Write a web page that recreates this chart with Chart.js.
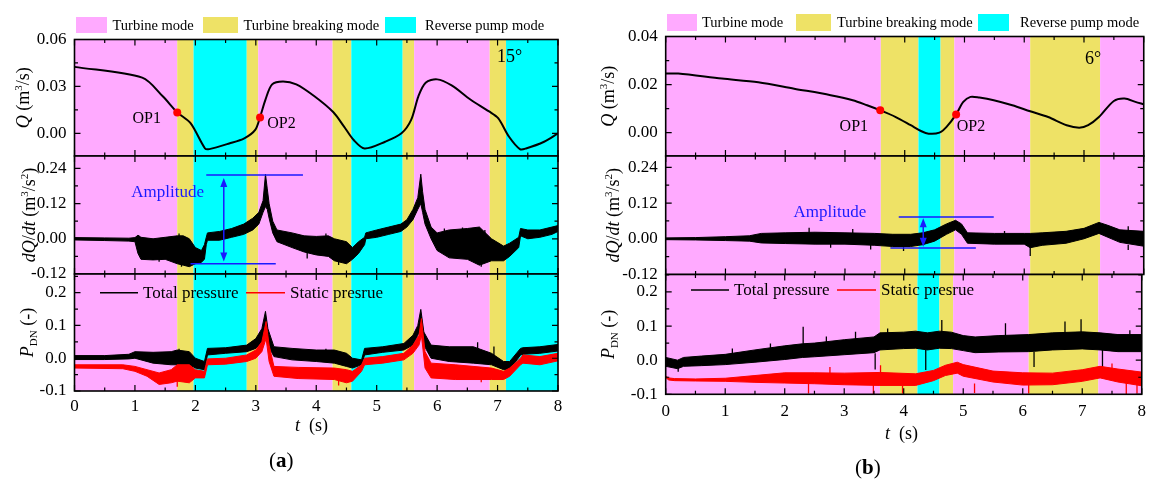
<!DOCTYPE html>
<html>
<head>
<meta charset="utf-8">
<script src="https://cdn.jsdelivr.net/npm/chart.js@4.4.1/dist/chart.umd.min.js"></script>
<style>
body{margin:0;background:#fff;width:1153px;height:479px;overflow:hidden;position:relative}
canvas{position:absolute;left:0;top:0}
</style>
</head>
<body>
<canvas id="c1" width="1153" height="479"></canvas>
<canvas id="c2" width="1153" height="479"></canvas>
<canvas id="c3" width="1153" height="479"></canvas>
<canvas id="c4" width="1153" height="479"></canvas>
<canvas id="c5" width="1153" height="479"></canvas>
<canvas id="c6" width="1153" height="479"></canvas>
<script>
// ---- tick labels
var xTicks = [0,1,2,3,4,5,6,7,8];
var qTicksA = [0.00, 0.03, 0.06];
var qTicksB = [0.00, 0.02, 0.04];
var dqTicks = [-0.12, 0.00, 0.12, 0.24];
var pTicks = [-0.1, 0.0, 0.1, 0.2];

// ---- operating modes (s)
var modeNames = ['Turbine mode', 'Turbine breaking mode', 'Reverse pump mode'];
var bandsA_start = [0, 1.70, 1.97, 2.85, 3.04, 4.27, 4.58, 5.43, 5.62, 6.87, 7.14];
var bandsA_end   = [1.70, 1.97, 2.85, 3.04, 4.27, 4.58, 5.43, 5.62, 6.87, 7.14, 8];
var bandsA_mode  = [0, 1, 2, 1, 0, 1, 2, 1, 0, 1, 2];
var bandsB_start = [0, 3.60, 4.23, 4.60, 4.83, 6.10, 7.27];
var bandsB_end   = [3.60, 4.23, 4.60, 4.83, 6.10, 7.27, 8];
var bandsB_mode  = [0, 1, 2, 1, 0, 1, 0];

// ---- (a) 15 deg : flow rate Q
var qaT = [0,1.12,1.46,1.70,1.92,2.16,2.23,2.56,2.81,2.99,3.07,3.16,3.27,3.45,3.67,3.97,4.28,4.46,4.62,4.80,5.14,5.41,5.57,5.69,5.81,6.00,6.24,6.55,6.86,7.01,7.19,7.37,7.47,7.77,8.0];
var qaV = [0.0425,0.0356,0.0237,0.0134,0.0065,-0.0097,-0.0101,-0.0065,-0.0032,0.0022,0.0104,0.0216,0.0313,0.0332,0.0313,0.0237,0.0136,0.0043,-0.0043,-0.0097,-0.0054,0.0,0.0086,0.0237,0.0324,0.0345,0.0306,0.0216,0.014,0.0097,-0.0022,-0.0101,-0.0097,-0.0054,0.0];
var opA_t = [1.70, 3.07];
var opA_q = [0.0133, 0.0101];

// dQ/dt (a): upper / lower edge of the dense trace, plus single spikes
var dqaT  = [0,0.5,0.9,1.0,1.05,1.1,1.3,1.5,1.7,1.8,1.9,2.0,2.1,2.15,2.18,2.2,2.4,2.6,2.8,2.95,3.05,3.12,3.16,3.19,3.22,3.28,3.35,3.6,3.8,4.0,4.2,4.3,4.5,4.6,4.7,4.8,4.82,5.0,5.2,5.4,5.5,5.6,5.68,5.73,5.76,5.8,5.9,6.0,6.2,6.5,6.7,6.9,7.1,7.2,7.35,7.38,7.5,7.7,7.9,8.0];
var dqaHi = [0.004,0.003,0.002,0.004,0.012,0.005,0.0,0.005,0.01,0.01,0.0,-0.03,-0.04,-0.02,0.005,0.02,0.025,0.035,0.05,0.07,0.09,0.13,0.22,0.17,0.12,0.06,0.03,0.02,0.01,0.008,0.01,0.0,-0.01,-0.03,-0.01,0.005,0.02,0.03,0.04,0.05,0.065,0.10,0.14,0.22,0.16,0.10,0.04,0.02,0.03,0.035,0.04,0.0,-0.025,-0.015,0.005,0.035,0.03,0.03,0.04,0.045];
var dqaLo = [-0.004,-0.006,-0.008,-0.010,-0.05,-0.070,-0.072,-0.070,-0.085,-0.09,-0.095,-0.085,-0.08,-0.07,-0.02,-0.005,-0.005,0.005,0.015,0.03,0.05,0.09,0.11,0.10,0.07,0.02,-0.01,-0.03,-0.045,-0.055,-0.06,-0.075,-0.085,-0.07,-0.05,-0.02,0.0,0.005,0.015,0.025,0.04,0.065,0.10,0.12,0.09,0.05,0.0,-0.04,-0.065,-0.07,-0.09,-0.075,-0.075,-0.06,-0.03,0.01,0.0,0.005,0.015,0.025];
var dqaSpkT = [1.06,1.40,1.73,1.77,1.86,3.85,4.16,4.37,6.12,6.42,6.73,6.79];
var dqaSpkA = [-0.01,-0.06,0.0,-0.07,-0.07,-0.04,-0.01,-0.07,0.0,0.0,-0.07,0.0];
var dqaSpkB = [0.012,-0.078,0.018,-0.095,-0.089,-0.067,0.018,-0.089,0.035,0.038,-0.095,0.03];

// P_DN (a): total pressure
var ptaT  = [0,0.5,0.9,1.0,1.3,1.6,1.7,1.9,2.0,2.15,2.2,2.5,2.85,3.0,3.1,3.16,3.2,3.3,3.6,4.0,4.3,4.5,4.6,4.75,4.8,5.1,5.45,5.6,5.68,5.73,5.78,5.9,6.2,6.6,6.9,7.1,7.2,7.38,7.42,7.7,8.0];
var ptaHi = [0.008,0.008,0.012,0.02,0.018,0.02,0.025,0.02,0.0,-0.01,0.03,0.032,0.04,0.06,0.09,0.143,0.09,0.035,0.03,0.025,0.025,0.015,0.0,-0.005,0.03,0.035,0.045,0.07,0.1,0.149,0.08,0.04,0.035,0.035,0.015,-0.01,-0.01,0.03,0.032,0.035,0.042];
var ptaLo = [-0.004,-0.004,-0.002,0.0,-0.015,-0.02,-0.02,-0.02,-0.03,-0.035,0.01,0.015,0.02,0.03,0.05,0.08,0.04,0.005,-0.005,-0.01,-0.015,-0.025,-0.03,-0.02,0.01,0.018,0.025,0.04,0.07,0.09,0.04,0.0,-0.01,-0.015,-0.02,-0.035,-0.035,0.01,0.012,0.015,0.022];
var ptaSpkT = [1.73, 4.16, 6.67, 6.94];
var ptaSpkA = [0.015, 0.02, 0.03, 0.0];
var ptaSpkB = [0.029, 0.029, 0.049, 0.036];
// P_DN (a): static pressure
var psaT  = [0,0.8,1.0,1.2,1.4,1.6,1.7,1.9,2.0,2.15,2.2,2.5,2.85,3.0,3.1,3.17,3.22,3.3,3.7,4.3,4.5,4.6,4.75,4.8,5.1,5.45,5.6,5.7,5.74,5.8,5.9,6.3,6.9,7.1,7.2,7.38,7.42,7.7,8.0];
var psaHi = [-0.02,-0.02,-0.025,-0.035,-0.045,-0.035,-0.02,-0.02,-0.035,-0.04,-0.002,0.0,0.01,0.025,0.05,0.112,0.04,-0.025,-0.028,-0.03,-0.035,-0.04,-0.02,0.0,0.005,0.015,0.04,0.07,0.121,0.02,-0.015,-0.02,-0.03,-0.04,-0.03,0.0,0.01,0.005,0.015];
var psaLo = [-0.03,-0.032,-0.04,-0.055,-0.08,-0.075,-0.07,-0.075,-0.06,-0.06,-0.02,-0.018,-0.01,0.0,0.02,0.06,-0.01,-0.055,-0.062,-0.065,-0.075,-0.07,-0.04,-0.02,-0.015,-0.005,0.015,0.04,0.07,-0.03,-0.06,-0.065,-0.065,-0.065,-0.055,-0.02,-0.015,-0.02,-0.008];
var psaSpkT = [1.70, 4.37, 6.73];
var psaSpkA = [-0.06, -0.065, -0.06];
var psaSpkB = [-0.087, -0.083, -0.073];

// ---- (b) 6 deg
var qbT = [0,0.21,0.94,1.55,2.15,2.76,3.13,3.37,3.59,3.85,4.10,4.28,4.40,4.58,4.70,4.86,4.98,5.10,5.25,5.49,5.80,6.10,6.40,6.71,6.92,7.07,7.25,7.50,7.68,7.86,8.0];
var qbV = [0.0246,0.0246,0.0225,0.021,0.0183,0.0156,0.0135,0.0114,0.0093,0.0065,0.0031,0.0006,-0.0004,0.0,0.0024,0.0076,0.0128,0.0149,0.0146,0.0135,0.0114,0.0089,0.0065,0.0031,0.0021,0.0031,0.0065,0.0132,0.0142,0.0128,0.0118];
var opB_t = [3.59, 4.86];
var opB_q = [0.0093, 0.0076];

var dqbT  = [0,0.5,1.0,1.4,1.6,2.0,2.5,3.0,3.5,3.8,4.1,4.3,4.5,4.7,4.85,4.95,5.05,5.5,6.0,6.1,6.3,6.7,7.0,7.25,7.4,7.6,8.0];
var dqbHi = [0.003,0.004,0.007,0.01,0.018,0.02,0.022,0.02,0.018,0.015,0.015,0.02,0.03,0.05,0.062,0.05,0.02,0.018,0.018,0.018,0.02,0.025,0.035,0.055,0.045,0.03,0.025];
var dqbLo = [-0.003,-0.004,-0.006,-0.008,-0.014,-0.016,-0.018,-0.018,-0.022,-0.026,-0.026,-0.02,-0.008,0.015,0.03,0.015,-0.015,-0.018,-0.018,-0.03,-0.022,-0.015,0.0,0.018,0.005,-0.012,-0.025];
var dqbSpkT = [2.4,2.76,3.13,3.43,3.98,5.67,6.1,6.89,7.74,7.74];
var dqbSpkA = [0.015,-0.015,0.015,-0.018,-0.02,0.012,-0.02,0.02,0.02,-0.02];
var dqbSpkB = [0.037,-0.03,0.033,-0.036,-0.041,0.026,-0.058,0.033,0.042,-0.038];

var ptbT  = [0,0.2,0.3,0.6,1.0,1.5,2.0,2.3,2.5,3.0,3.5,3.6,4.0,4.2,4.4,4.6,4.8,5.0,5.2,5.6,6.1,6.5,7.0,7.3,7.6,8.0];
var ptbHi = [0.008,0.0,0.008,0.012,0.017,0.03,0.042,0.048,0.05,0.06,0.068,0.08,0.082,0.085,0.08,0.085,0.082,0.072,0.068,0.072,0.075,0.08,0.083,0.08,0.075,0.075];
var ptbLo = [-0.018,-0.025,-0.018,-0.016,-0.013,-0.006,0.002,0.008,0.01,0.016,0.022,0.03,0.034,0.035,0.03,0.035,0.034,0.028,0.022,0.024,0.025,0.03,0.033,0.03,0.025,0.025];
var ptbSpkT = [0.21,1.12,1.76,2.31,2.70,3.19,3.52,3.73,4.37,4.64,5.71,6.19,6.71,6.98,7.34,7.80];
var ptbSpkA = [-0.02,0.015,0.025,0.045,0.05,0.058,0.02,0.075,0.03,0.08,0.07,0.025,0.078,0.08,0.03,0.075];
var ptbSpkB = [-0.034,0.034,0.049,0.098,0.069,0.083,-0.027,0.093,-0.029,0.118,0.108,-0.02,0.113,0.12,-0.025,0.088];

var psbT  = [0,0.05,0.15,0.5,1.0,1.5,2.0,2.5,3.0,3.6,4.2,4.5,4.7,4.9,5.0,5.5,6.0,6.5,7.0,7.3,7.6,8.0];
var psbHi = [-0.047,-0.052,-0.054,-0.055,-0.053,-0.045,-0.037,-0.037,-0.038,-0.036,-0.04,-0.03,-0.015,-0.006,-0.013,-0.032,-0.037,-0.038,-0.028,-0.018,-0.026,-0.035];
var psbLo = [-0.051,-0.058,-0.06,-0.061,-0.062,-0.065,-0.067,-0.069,-0.072,-0.074,-0.074,-0.06,-0.045,-0.038,-0.047,-0.064,-0.073,-0.072,-0.062,-0.052,-0.064,-0.075];
var psbSpkT = [2.4,2.76,3.49,3.61,3.98,5.19,6.1,7.5,7.74,7.92];
var psbSpkA = [-0.065,-0.04,-0.07,-0.04,-0.075,-0.068,-0.072,-0.03,-0.065,-0.07];
var psbSpkB = [-0.098,-0.02,-0.1,-0.015,-0.098,-0.096,-0.098,-0.01,-0.1,-0.098];

// ---- annotations (time s, value)
var opA_label_t = [0.96, 3.19], opA_label_v = [0.0091, 0.006];
var opB_label_t = [2.91, 4.87], opB_label_v = [0.0023, 0.0023];
var ampA_top = [2.18, 3.78, 0.217], ampA_bot = [1.92, 3.33, -0.085], ampA_arrow = [2.47, 0.207, -0.077], ampA_label = [0.94, 0.156];
var ampB_top = [3.90, 5.49, 0.073], ampB_bot = [3.76, 5.19, -0.031], ampB_arrow = [4.31, 0.069, -0.027], ampB_label = [2.14, 0.087];

var SERIF = '"Liberation Serif", "DejaVu Serif", serif';
var modeColors = ['#FFAAFF', '#EEE266', '#00FFFF'];
var BLUE = '#1a1aff';

function pts(t, v){ return t.map(function(x, i){ return {x: x, y: v[i]}; }); }

function band(t, hi, lo, color){
  return [
    {data: pts(t, hi), borderColor: color, backgroundColor: color, borderWidth: 1, pointRadius: 0, fill: '+1', tension: 0},
    {data: pts(t, lo), borderColor: color, borderWidth: 1, pointRadius: 0, fill: false, tension: 0}
  ];
}

// vertical strokes for isolated spikes, broken with nulls
function spikes(t, a, b, color){
  var d = [];
  for (var i = 0; i < t.length; i++){
    d.push({x: t[i], y: a[i]}, {x: t[i], y: b[i]}, {x: t[i], y: null});
  }
  return {data: d, borderColor: color, borderWidth: 1.3, pointRadius: 0, fill: false, spanGaps: false};
}

function fontFor(st, size){
  if (st == 'i') return 'italic ' + size + 'px ' + SERIF;
  if (st == 'b') return 'bold ' + size + 'px ' + SERIF;
  if (st == 'sup' || st == 'sub') return Math.round(size * 0.62) + 'px ' + SERIF;
  return size + 'px ' + SERIF;
}

// mixed-style text, optionally rotated, x/y = baseline anchor
function rich(ctx, segs, x, y, size, rot, center){
  ctx.save();
  ctx.translate(x, y);
  if (rot) ctx.rotate(-Math.PI / 2);
  ctx.fillStyle = '#000';
  ctx.textBaseline = 'alphabetic';
  ctx.textAlign = 'left';
  var w = 0;
  segs.forEach(function(s){ ctx.font = fontFor(s[1], size); w += ctx.measureText(s[0]).width; });
  var cx = center ? -w / 2 : 0;
  segs.forEach(function(s){
    ctx.font = fontFor(s[1], size);
    var dy = s[1] == 'sup' ? -size * 0.38 : (s[1] == 'sub' ? size * 0.22 : 0);
    ctx.fillText(s[0], cx, dy);
    cx += ctx.measureText(s[0]).width;
  });
  ctx.restore();
}

function topLegend(ctx, items, base){
  ctx.font = '14.5px ' + SERIF;
  ctx.textBaseline = 'alphabetic';
  ctx.textAlign = 'left';
  items.forEach(function(it, i){
    ctx.fillStyle = modeColors[i];
    ctx.fillRect(it[0], it[1], it[2], it[3]);
    ctx.fillStyle = '#000';
    ctx.fillText(modeNames[i], it[4], base);
  });
}

function pLegend(ctx, x, y){
  ctx.lineWidth = 1.5;
  ctx.strokeStyle = '#000';
  ctx.beginPath(); ctx.moveTo(x, y); ctx.lineTo(x + 38, y); ctx.stroke();
  ctx.font = '17px ' + SERIF;
  ctx.fillStyle = '#000';
  ctx.textBaseline = 'alphabetic';
  ctx.fillText('Total pressure', x + 43, y + 5);
  ctx.strokeStyle = '#ff0000';
  ctx.beginPath(); ctx.moveTo(x + 146, y); ctx.lineTo(x + 185, y); ctx.stroke();
  ctx.fillText('Static presrue', x + 190, y + 5);
}

function amplitude(chart, ctx, top, bot, arr, lab){
  var xs = chart.scales.x, ys = chart.scales.y;
  ctx.strokeStyle = BLUE; ctx.fillStyle = BLUE; ctx.lineWidth = 1.5;
  ctx.beginPath();
  ctx.moveTo(xs.getPixelForValue(top[0]), ys.getPixelForValue(top[2]));
  ctx.lineTo(xs.getPixelForValue(top[1]), ys.getPixelForValue(top[2]));
  ctx.moveTo(xs.getPixelForValue(bot[0]), ys.getPixelForValue(bot[2]));
  ctx.lineTo(xs.getPixelForValue(bot[1]), ys.getPixelForValue(bot[2]));
  ctx.stroke();
  var x = xs.getPixelForValue(arr[0]), y0 = ys.getPixelForValue(arr[1]), y1 = ys.getPixelForValue(arr[2]);
  ctx.beginPath(); ctx.moveTo(x, y0 + 6); ctx.lineTo(x, y1 - 6); ctx.stroke();
  ctx.beginPath(); ctx.moveTo(x, y0); ctx.lineTo(x - 3.5, y0 + 9); ctx.lineTo(x + 3.5, y0 + 9); ctx.closePath(); ctx.fill();
  ctx.beginPath(); ctx.moveTo(x, y1); ctx.lineTo(x - 3.5, y1 - 9); ctx.lineTo(x + 3.5, y1 - 9); ctx.closePath(); ctx.fill();
  ctx.font = '17px ' + SERIF;
  ctx.textBaseline = 'middle';
  ctx.fillText('Amplitude', xs.getPixelForValue(lab[0]), ys.getPixelForValue(lab[1]));
}

function opLabels(chart, ctx, lt, lv){
  var xs = chart.scales.x, ys = chart.scales.y;
  ctx.font = '16px ' + SERIF;
  ctx.fillStyle = '#000';
  ctx.textBaseline = 'middle';
  ctx.fillText('OP1', xs.getPixelForValue(lt[0]), ys.getPixelForValue(lv[0]));
  ctx.fillText('OP2', xs.getPixelForValue(lt[1]), ys.getPixelForValue(lv[1]));
}

var qTitle  = [['Q','i'],[' (m','n'],['3','sup'],['/s)','n']];
var dqTitle = [['dQ','i'],['/','n'],['dt','i'],[' (m','n'],['3','sup'],['/s','n'],['2','sup'],[')','n']];
var pTitle  = [['P','i'],['DN','sub'],[' (-)','n']];

function makeChart(sp){
  var deco = {
    id: 'deco',
    beforeDraw: function(chart){
      var ctx = chart.ctx, a = chart.chartArea, xs = chart.scales.x;
      ctx.save();
      for (var i = 0; i < sp.bands[0].length; i++){
        var x0 = xs.getPixelForValue(sp.bands[0][i]), x1 = xs.getPixelForValue(sp.bands[1][i]);
        ctx.fillStyle = modeColors[sp.bands[2][i]];
        ctx.fillRect(x0, a.top, x1 - x0, a.bottom - a.top);
      }
      ctx.restore();
    },
    afterDraw: function(chart){
      var ctx = chart.ctx, a = chart.chartArea, xs = chart.scales.x, ys = chart.scales.y;
      ctx.save();
      ctx.strokeStyle = '#000';
      ctx.lineWidth = 1.2;
      ctx.beginPath();
      for (var v = 0; v <= 8.001; v += 0.5){
        var px = xs.getPixelForValue(v), L = Math.abs(v - Math.round(v)) < 1e-6 ? 6 : 3.5;
        ctx.moveTo(px, a.bottom); ctx.lineTo(px, a.bottom - L);
        ctx.moveTo(px, a.top); ctx.lineTo(px, a.top + L);
      }
      for (var k = -30; k <= 60; k++){
        var yv = sp.ticks[0] + k * sp.minor;
        if (yv < sp.min - 1e-9 || yv > sp.max + 1e-9) continue;
        var py = ys.getPixelForValue(yv), L2 = (k % 2 === 0) ? 6 : 3.5;
        ctx.moveTo(a.left, py); ctx.lineTo(a.left + L2, py);
        ctx.moveTo(a.right, py); ctx.lineTo(a.right - L2, py);
      }
      ctx.stroke();
      ctx.lineWidth = 1.6;
      ctx.strokeRect(a.left, a.top, a.right - a.left, a.bottom - a.top);
      rich(ctx, sp.title, sp.titleX, (a.top + a.bottom) / 2, 18, true, true);
      if (sp.extra) sp.extra(chart, ctx);
      ctx.restore();
    }
  };
  var xH = sp.showX ? 30 : 0;
  return new Chart(document.getElementById(sp.id), {
    type: 'line',
    data: {datasets: sp.datasets},
    options: {
      responsive: false,
      animation: false,
      events: [],
      layout: {autoPadding: false, padding: {left: sp.box[0] - 60, top: sp.box[1], right: 1153 - sp.box[2], bottom: 479 - sp.box[3] - xH}},
      plugins: {legend: {display: false}, tooltip: {enabled: false}},
      scales: {
        x: {
          type: 'linear', min: 0, max: 8, display: sp.showX,
          afterFit: function(s){ s.height = xH; },
          afterBuildTicks: function(s){ s.ticks = xTicks.map(function(v){ return {value: v}; }); },
          grid: {display: false, drawTicks: false}, border: {display: false},
          ticks: {padding: sp.xPad || 5, color: '#000', font: {family: SERIF, size: 17}, maxRotation: 0, autoSkip: false,
                  callback: function(v){ return String(v); }}
        },
        y: {
          min: sp.min, max: sp.max,
          afterFit: function(s){ s.width = 60; },
          afterBuildTicks: function(s){ s.ticks = sp.ticks.map(function(v){ return {value: v}; }); },
          grid: {display: false, drawTicks: false}, border: {display: false},
          ticks: {padding: 8, color: '#000', font: {family: SERIF, size: 17},
                  callback: function(v){ return v.toFixed(sp.dec); }}
        }
      }
    },
    plugins: [deco]
  });
}

var bandsA = [bandsA_start, bandsA_end, bandsA_mode];
var bandsB = [bandsB_start, bandsB_end, bandsB_mode];

// ---------- panel (a)
makeChart({
  id: 'c1', box: [74.5, 39.5, 558, 156], min: -0.0145, max: 0.06, ticks: qTicksA, minor: 0.015, dec: 2,
  bands: bandsA, title: qTitle, titleX: 29,
  datasets: [
    {data: pts(opA_t, opA_q), showLine: false, pointRadius: 4, pointBackgroundColor: '#ff0000', pointBorderWidth: 0},
    {data: pts(qaT, qaV), borderColor: '#000', borderWidth: 2, pointRadius: 0, tension: 0.3}
  ],
  extra: function(chart, ctx){
    topLegend(ctx, [[76,17,31,16,112.5],[203,17,35,16,243.5],[385,17,31,16,425]], 30);
    opLabels(chart, ctx, opA_label_t, opA_label_v);
    ctx.font = '18px ' + SERIF; ctx.textBaseline = 'middle'; ctx.fillStyle = '#000';
    ctx.fillText('15°', 497, 57);
  }
});
makeChart({
  id: 'c2', box: [74.5, 156, 558, 274], min: -0.12, max: 0.282, ticks: dqTicks, minor: 0.06, dec: 2,
  bands: bandsA, title: dqTitle, titleX: 35,
  datasets: band(dqaT, dqaHi, dqaLo, '#000').concat([spikes(dqaSpkT, dqaSpkA, dqaSpkB, '#000')]),
  extra: function(chart, ctx){ amplitude(chart, ctx, ampA_top, ampA_bot, ampA_arrow, ampA_label); }
});
makeChart({
  id: 'c3', box: [74.5, 274, 558, 391], min: -0.1, max: 0.257, ticks: pTicks, minor: 0.05, dec: 1,
  bands: bandsA, title: pTitle, titleX: 33, showX: true, xPad: 5,
  datasets: band(psaT, psaHi, psaLo, '#ff0000').concat([spikes(psaSpkT, psaSpkA, psaSpkB, '#ff0000')],
            band(ptaT, ptaHi, ptaLo, '#000'), [spikes(ptaSpkT, ptaSpkA, ptaSpkB, '#000')]),
  extra: function(chart, ctx){
    pLegend(ctx, 100, 292.7);
    rich(ctx, [['t','i'],['  (s)','n']], 295, 431, 18, false, false);
    rich(ctx, [['(','n'],['a','b'],[')','n']], 269, 467, 21, false, false);
  }
});

// ---------- panel (b)
makeChart({
  id: 'c4', box: [665.7, 36.5, 1150.7, 156], min: -0.0097, max: 0.04, ticks: qTicksB, minor: 0.01, dec: 2,
  bands: bandsB, title: qTitle, titleX: 614,
  datasets: [
    {data: pts(opB_t, opB_q), showLine: false, pointRadius: 4, pointBackgroundColor: '#ff0000', pointBorderWidth: 0},
    {data: pts(qbT, qbV), borderColor: '#000', borderWidth: 2, pointRadius: 0, tension: 0.3}
  ],
  extra: function(chart, ctx){
    topLegend(ctx, [[667,14,30,17,702],[796,14,35,17,837],[978,14,31,17,1020]], 27);
    opLabels(chart, ctx, opB_label_t, opB_label_v);
    ctx.font = '18px ' + SERIF; ctx.textBaseline = 'middle'; ctx.fillStyle = '#000';
    ctx.fillText('6°', 1085, 59);
  }
});
makeChart({
  id: 'c5', box: [665.7, 156, 1150.7, 274.5], min: -0.12, max: 0.278, ticks: dqTicks, minor: 0.06, dec: 2,
  bands: bandsB, title: dqTitle, titleX: 619,
  datasets: band(dqbT, dqbHi, dqbLo, '#000').concat([spikes(dqbSpkT, dqbSpkA, dqbSpkB, '#000')]),
  extra: function(chart, ctx){ amplitude(chart, ctx, ampB_top, ampB_bot, ampB_arrow, ampB_label); }
});
makeChart({
  id: 'c6', box: [665.7, 274.5, 1150.7, 394.3], min: -0.1, max: 0.251, ticks: pTicks, minor: 0.05, dec: 1,
  bands: bandsB, title: pTitle, titleX: 614, showX: true, xPad: 7,
  datasets: band(psbT, psbHi, psbLo, '#ff0000').concat([spikes(psbSpkT, psbSpkA, psbSpkB, '#ff0000')],
            band(ptbT, ptbHi, ptbLo, '#000'), [spikes(ptbSpkT, ptbSpkA, ptbSpkB, '#000')]),
  extra: function(chart, ctx){
    pLegend(ctx, 691, 290);
    rich(ctx, [['t','i'],['  (s)','n']], 885, 439, 18, false, false);
    rich(ctx, [['(','n'],['b','b'],[')','n']], 855, 474, 21, false, false);
  }
});
</script>
</body>
</html>
